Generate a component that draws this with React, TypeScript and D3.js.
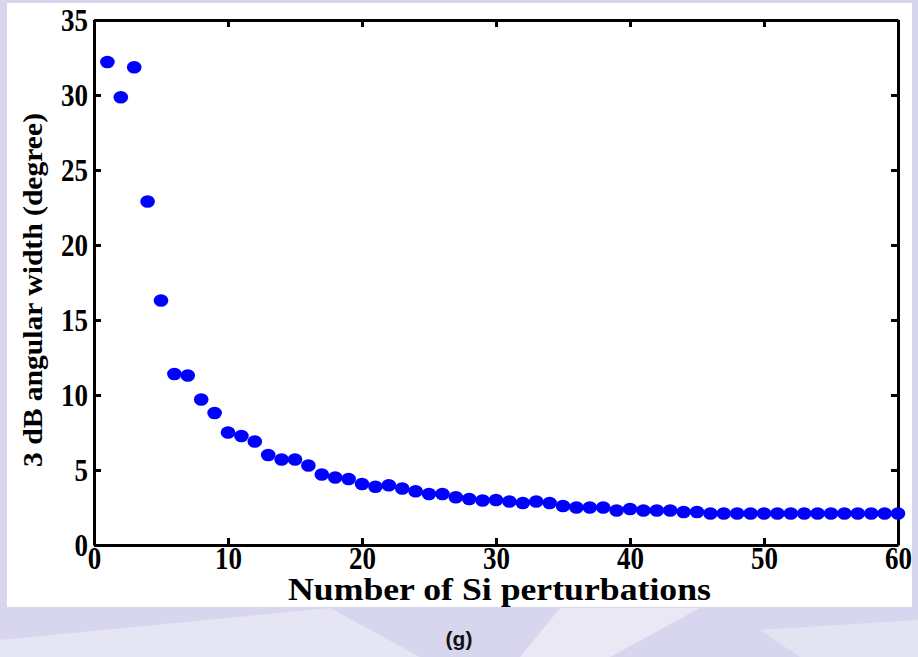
import * as d3 from "d3";
import { useRef, useEffect } from "react";

// Si perturbation count (x) and 3 dB angular width in degrees (y)
const perturbations = d3.range(1, 61);
const angularWidth = [
    32.2, 29.85, 31.85, 22.9, 16.3, 11.4, 11.3, 9.7, 8.8, 7.5,
    7.27, 6.9, 6.0, 5.7, 5.7, 5.3, 4.7, 4.5, 4.4, 4.07,
    3.88, 3.98, 3.77, 3.58, 3.4, 3.4, 3.18, 3.07, 2.97, 3.0,
    2.9, 2.8, 2.9, 2.8, 2.6, 2.5, 2.5, 2.5, 2.3, 2.4,
    2.3, 2.3, 2.3, 2.2, 2.2, 2.1, 2.1, 2.1, 2.1, 2.1,
    2.1, 2.1, 2.1, 2.1, 2.1, 2.1, 2.1, 2.1, 2.1, 2.1,
];
const xTicks = [0, 10, 20, 30, 40, 50, 60];
const yTicks = [0, 5, 10, 15, 20, 25, 30, 35];

const W = 918;
const H = 657;
const margin = { left: 94, right: 20, top: 20, bottom: 112 };

const App = () => {
    const svgRef = useRef<SVGSVGElement>(null);

    useEffect(() => {
        document.body.style.margin = "0";
        const svg = d3.select(svgRef.current);
        svg.selectAll("*").remove();

        const x = d3.scaleLinear().domain([0, 60]).range([margin.left, W - margin.right]);
        const y = d3.scaleLinear().domain([0, 35]).range([H - margin.bottom, margin.top]);

        // page background behind the figure
        svg.append("rect").attr("width", W).attr("height", H).attr("fill", "#d8d6ee");
        svg.append("path")
            .attr("d", "M0,640 L330,608 L420,657 L0,657 Z")
            .attr("fill", "#e6e5f3");
        svg.append("path")
            .attr("d", "M560,608 L700,608 L610,657 L520,657 Z")
            .attr("fill", "#e9e8f4");
        svg.append("path")
            .attr("d", "M760,630 L918,620 L918,657 L800,657 Z")
            .attr("fill", "#e4e3f2");

        // white figure panel
        svg.append("rect")
            .attr("x", 7).attr("y", 3)
            .attr("width", 905).attr("height", 604)
            .attr("fill", "#ffffff");

        const fontFamily = "'Liberation Serif', 'Times New Roman', serif";

        // axes with inward ticks, mirrored on top/right
        const bottom = svg.append("g")
            .attr("transform", `translate(0,${y(0)})`)
            .call(d3.axisBottom(x).tickValues(xTicks).tickSizeInner(-7).tickSizeOuter(0));
        const left = svg.append("g")
            .attr("transform", `translate(${x(0)},0)`)
            .call(d3.axisLeft(y).tickValues(yTicks).tickSizeInner(-7).tickSizeOuter(0));
        const top = svg.append("g")
            .attr("transform", `translate(0,${y(35)})`)
            .call(d3.axisTop(x).tickValues(xTicks).tickSizeInner(-7).tickSizeOuter(0).tickFormat(() => ""));
        const right = svg.append("g")
            .attr("transform", `translate(${x(60)},0)`)
            .call(d3.axisRight(y).tickValues(yTicks).tickSizeInner(-7).tickSizeOuter(0).tickFormat(() => ""));

        [bottom, left, top, right].forEach(g => {
            g.select(".domain").attr("stroke", "#000").attr("stroke-width", 3);
            g.selectAll(".tick line").attr("stroke", "#000").attr("stroke-width", 3);
            g.selectAll(".tick text")
                .attr("fill", "#000")
                .attr("font-family", fontFamily)
                .attr("font-weight", "bold")
                .attr("font-size", 27)
                .attr("x", 0)
                .attr("y", 0)
                .attr("dy", 0);
        });
        // the source figure's lettering is a little stretched vertically
        bottom.selectAll(".tick text")
            .attr("transform", "translate(0,24) scale(1,1.15)");
        left.selectAll(".tick text")
            .attr("text-anchor", "end")
            .attr("transform", "translate(-6,10) scale(1,1.15)");

        // data points
        svg.append("g")
            .selectAll("ellipse")
            .data(angularWidth)
            .enter()
            .append("ellipse")
            .attr("cx", (d, i) => x(perturbations[i]))
            .attr("cy", d => y(d))
            .attr("rx", 7.3)
            .attr("ry", 6.3)
            .attr("fill", "#0000ff");

        // axis titles
        svg.append("text")
            .attr("x", 288)
            .attr("y", 600)
            .attr("textLength", 423)
            .attr("lengthAdjust", "spacingAndGlyphs")
            .attr("font-family", fontFamily)
            .attr("font-weight", "bold")
            .attr("font-size", 31)
            .text("Number of Si perturbations");

        svg.append("text")
            .attr("transform", `translate(42,467) rotate(-90)`)
            .attr("textLength", 354)
            .attr("lengthAdjust", "spacingAndGlyphs")
            .attr("font-family", fontFamily)
            .attr("font-weight", "bold")
            .attr("font-size", 28)
            .text("3 dB angular width (degree)");

        svg.append("text")
            .attr("x", 459)
            .attr("y", 646)
            .attr("text-anchor", "middle")
            .attr("font-family", "'Liberation Sans', Arial, sans-serif")
            .attr("font-weight", "bold")
            .attr("font-size", 21)
            .attr("fill", "#111")
            .text("(g)");
    }, []);

    return <svg ref={svgRef} width={W} height={H} style={{ display: "block" }} />;
};

export default App;
